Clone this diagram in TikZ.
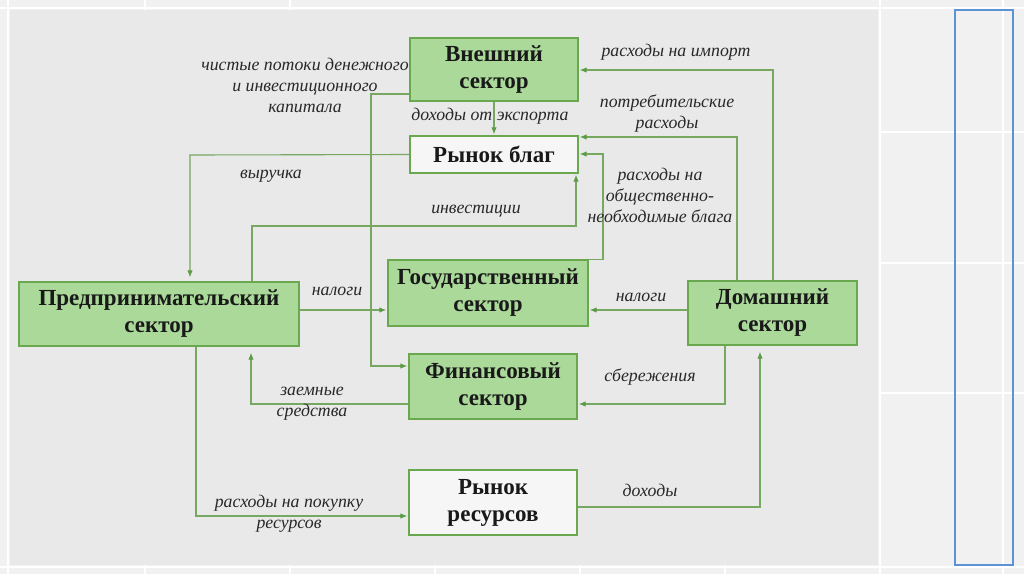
\documentclass[tikz,border=0pt]{standalone}
\usepackage{fontspec}
\setmainfont{Liberation Serif}
\usetikzlibrary{arrows.meta}
\definecolor{pagebg}{RGB}{241,241,241}
\definecolor{panelbg}{RGB}{233,233,233}
\definecolor{boxfill}{RGB}{170,217,153}
\definecolor{boxline}{RGB}{106,168,79}
\definecolor{wfill}{RGB}{246,246,246}
\definecolor{connc}{RGB}{118,168,98}
\definecolor{tipc}{RGB}{92,156,70}
\definecolor{labc}{RGB}{40,40,40}
\definecolor{bluec}{RGB}{91,147,212}
\tikzset{
  sbox/.style={draw=boxline, line width=1.3pt, fill=boxfill, inner sep=0pt, align=center,
    font=\fontsize{23}{27}\selectfont\bfseries, text=black!90},
  wbox/.style={sbox, fill=wfill},
  conn/.style={draw=connc, line width=1.1pt, -{Latex[length=7pt,width=5.5pt,color=tipc]}, shorten >=1pt},
  lab/.style={font=\fontsize{17.8}{21}\selectfont\itshape, text=labc, align=center, inner sep=0pt},
  wline/.style={draw=white, line width=1.5pt}
}
\begin{document}
\begin{tikzpicture}[x=1pt,y=-1pt]
\useasboundingbox (0,0) rectangle (1024,574);
\fill[pagebg] (0,0) rectangle (1024,574);
\fill[panelbg] (10,10) rectangle (878,565);
% faint white grid lines of the slide background
\draw[wline] (0,8) -- (1024,8);
\draw[wline] (0,567) -- (1024,567);
\draw[wline] (8,0) -- (8,574);
\draw[wline] (880,0) -- (880,574);
\draw[wline] (1003,0) -- (1003,574);
\draw[wline] (880,132) -- (1024,132);
\draw[wline] (880,263) -- (1024,263);
\draw[wline] (880,393) -- (1024,393);
\draw[wline] (145,0) -- (145,10);
\draw[wline] (290,0) -- (290,10);
\draw[wline] (145,565) -- (145,574);
\draw[wline] (290,565) -- (290,574);
\draw[wline] (435,565) -- (435,574);
\draw[wline] (580,565) -- (580,574);
\draw[wline] (725,565) -- (725,574);
% blue frame at right
\draw[bluec, line width=2pt] (955,10) rectangle (1013,565);

% boxes
\node[sbox, minimum width=168pt, minimum height=63pt] (ext) at (494,69.5) {Внешний\\сектор};
\node[wbox, minimum width=168pt, minimum height=37pt] (goods) at (494,154.5) {Рынок благ};
\node[sbox, minimum width=200pt, minimum height=66pt] (gov) at (488,293) {Государственный\\сектор};
\node[sbox, minimum width=280pt, minimum height=64pt] (firm) at (159,314) {Предпринимательский\\сектор};
\node[sbox, minimum width=169pt, minimum height=64pt] (home) at (772.5,313) {Домашний\\сектор};
\node[sbox, minimum width=168pt, minimum height=65pt] (fin) at (493,386.5) {Финансовый\\сектор};
\node[wbox, minimum width=168pt, minimum height=65pt] (res) at (493,502.5) {Рынок\\ресурсов};

% bend points
\coordinate (imp) at (773,70);
\coordinate (cons) at (737,137);
\coordinate (pg) at (603,154);
\coordinate (inv) at (252,226);
\coordinate (invx) at (576,226);
\coordinate (rev) at (190,155);
\coordinate (cap) at (371,94);
\coordinate (capb) at (371,366);
\coordinate (tax) at (340,310);
\coordinate (sav) at (725,404);
\coordinate (loan) at (251,404);
\coordinate (rs) at (196,516);
\coordinate (inc) at (760,507);

% connectors
\draw[conn] (home.north -| imp) |- (ext.east |- imp);
\draw[conn] (home.north -| cons) |- (goods.east |- cons);
\draw[conn] (gov.north east) -- (pg |- gov.north east) -- (pg) -- (goods.east |- pg);
\draw[conn] (firm.north -| inv) -- (inv) -- (invx) -- (goods.south -| invx);
\draw[conn, shorten >=4pt] (goods.west) -- (rev) -- (firm.north -| rev);
\draw[conn] (ext.south) -- (goods.north);
\draw[conn] (ext.west |- cap) -- (cap) -- (capb) -- (fin.west |- capb);
\draw[conn] (firm.east |- tax) -- (gov.west |- tax);
\draw[conn] (home.west |- tax) -- (gov.east |- tax);
\draw[conn] (home.south -| sav) |- (fin.east |- sav);
\draw[conn, shorten >=6pt] (fin.west |- loan) -| (firm.south -| loan);
\draw[conn] (firm.south -| rs) |- (res.west |- rs);
\draw[conn, shorten >=6pt] (res.east |- inc) -| (home.south -| inc);

% labels
\node[lab] (l1) at (305,85) {чистые потоки денежного\\и инвестиционного\\капитала};
\node[lab] (l2) at (490,116) {доходы от экспорта};
\node[lab] (l3) at (271,176) {выручка};
\node[lab] (l4) at (476,211) {инвестиции};
\node[lab] (l5) at (676,52) {расходы на импорт};
\node[lab] (l6) at (667,114) {потребительские\\расходы};
\node[lab] (l7) at (660,195) {расходы на\\общественно-\\необходимые блага};
\node[lab] (l8) at (337,291) {налоги};
\node[lab] (l9) at (641,297) {налоги};
\node[lab] (l10) at (650,377) {сбережения};
\node[lab] (l11) at (312,404) {заемные\\средства};
\node[lab] (l12) at (289,514) {расходы на покупку\\ресурсов};
\node[lab] (l13) at (650,490) {доходы};
\end{tikzpicture}
\end{document}
